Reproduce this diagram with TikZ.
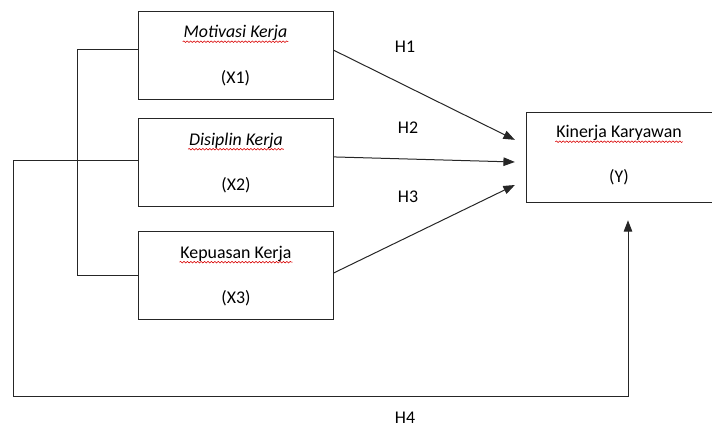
\documentclass[tikz,border=0pt]{standalone}
\usepackage{fontspec}
\setmainfont{Carlito}
\usetikzlibrary{arrows.meta,positioning,calc,decorations.pathmorphing}

\begin{document}
\begin{tikzpicture}[x=0.7pt,y=-0.7pt,
  varbox/.style={draw=black!85,minimum width=136.5pt,minimum height=61.6pt},
  varname/.style={font=\fontsize{12.5}{15}\selectfont,inner sep=0.5pt},
  link/.style={draw=black!85,line width=0.7pt},
  flow/.style={link,-{Triangle[length=8pt,width=6pt]}},
  spell/.style={draw=red!85!black,line width=0.4pt,decorate,
    decoration={snake,amplitude=0.55pt,segment length=2.4pt}},
  hyp/.style={font=\fontsize{12.5}{15}\selectfont}
]
\useasboundingbox (0,0) rectangle (712,428);
\node[varbox] (x1) at (235.5,55) {};
\node[varbox] (x2) at (236,162.5) {};
\node[varbox] (x3) at (236,275.5) {};
\node[varbox,minimum width=130pt,minimum height=63pt] (y) at (619,157) {};

\node[varname] (x1n) at ([yshift=15.4pt]x1.center) {\textit{Motivasi Kerja}};
\node[varname] (x1c) at ([yshift=-16pt]x1.center) {(X1)};
\node[varname] (x2n) at ([yshift=15.4pt]x2.center) {\textit{Disiplin Kerja}};
\node[varname] (x2c) at ([yshift=-16pt]x2.center) {(X2)};
\node[varname] (x3n) at ([yshift=15.4pt]x3.center) {Kepuasan Kerja};
\node[varname] (x3c) at ([yshift=-16pt]x3.center) {(X3)};
\node[varname] (yn) at ([yshift=16.8pt]y.center) {Kinerja Karyawan};
\node[varname] (yc) at ([yshift=-14pt]y.center) {(Y)};
\foreach \n in {x1n,x2n,x3n,yn}
  \draw[spell] (\n.south west) -- (\n.south east);

\coordinate (yin) at ([xshift=6.3pt,yshift=-12.6pt]y.south);

\draw[flow] ([yshift=3.5pt]x1.east) -- ([xshift=-7.7pt,yshift=12pt]y.west);
\draw[flow] ([yshift=3.9pt]x2.east) -- ([xshift=-7.7pt,yshift=-3.5pt]y.west);
\draw[flow] ([yshift=1.8pt]x3.east) -- ([xshift=-7.7pt,yshift=-19.6pt]y.west);
\node[hyp] (h1) at (405,47) {H1};
\node[hyp] (h2) at (408,128) {H2};
\node[hyp] (h3) at (408,197) {H3};

% links between the predictors
\draw[link] ([yshift=4.2pt]x1.west) -| ($(x3.west)+(-61,0)$) -- (x3.west);
\draw[flow] ([yshift=1.7pt]x2.west) -| (13,396) -| (yin);
\node[hyp] (h4) at (405,418) {H4};
\end{tikzpicture}
\end{document}
